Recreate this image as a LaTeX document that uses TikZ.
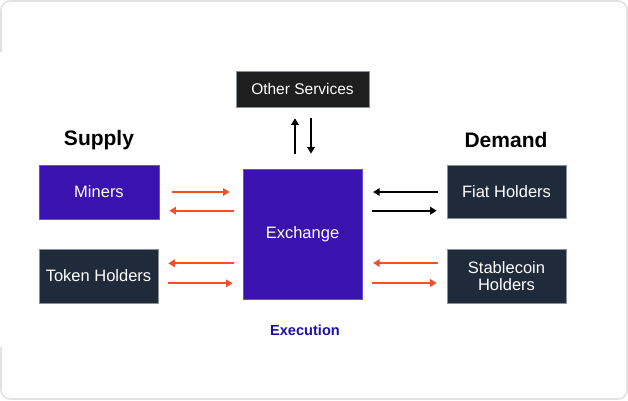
\documentclass[tikz,border=0pt]{standalone}
\usepackage{fontspec}
\setmainfont{Liberation Sans}
\usetikzlibrary{arrows.meta}
\definecolor{exviolet}{HTML}{3A12AE}
\definecolor{exvioletline}{HTML}{6B4FD8}
\definecolor{exslate}{HTML}{1F2B3A}
\definecolor{exslateline}{HTML}{8A9099}
\definecolor{exblack}{HTML}{1E1E1E}
\definecolor{exorange}{HTML}{F0512A}
\definecolor{exnavy}{HTML}{1E0FA0}
\definecolor{exframe}{HTML}{E2E2E2}
\tikzset{boxfont/.style={font=\fontsize{16.5}{18.5}\selectfont, text=white},
    flowarrow/.style={line width=2.2pt, -{Triangle[length=6.5pt,width=7.5pt]}}}

\begin{document}
\begin{tikzpicture}[x=1pt, y=-1pt,
    violetbox/.style={boxfont, fill=exviolet, draw=exvioletline, line width=0.8pt, inner sep=0pt},
    slatebox/.style={boxfont, fill=exslate, draw=exslateline, line width=0.6pt, inner sep=0pt, align=center},
    sidehead/.style={font=\fontsize{21}{24}\selectfont\bfseries, text=black},
    orangearrow/.style={flowarrow, exorange},
    blackarrow/.style={flowarrow, black}]
    \useasboundingbox (0,0) rectangle (628,400);

    % Outer frame (left edge is broken in the middle)
    \draw[exframe, line width=1.6pt, rounded corners=9pt]
        (1,52) -- (1,1) -- (627,1) -- (627,399) -- (1,399) -- (1,347);

    % Boxes
    \node[slatebox, fill=exblack, minimum width=133pt, minimum height=36pt,
        font=\fontsize{15.5}{18}\selectfont] (other) at (302.5,89) {Other Services};
    \node[violetbox, minimum width=119pt, minimum height=130pt] (exch) at (302.5,234) {Exchange};
    \node[violetbox, minimum width=120pt, minimum height=54pt] (miners) at (99,192) {Miners};
    \node[slatebox, minimum width=119pt, minimum height=54pt] (token) at (98.5,276) {Token Holders};
    \node[slatebox, minimum width=119pt, minimum height=53pt] (fiat) at (506.5,191.5) {Fiat Holders};
    \node[slatebox, minimum width=119pt, minimum height=54pt] (stable) at (506.5,276) {Stablecoin\\[-1pt]Holders};

    % Headings
    \node[sidehead] (supply) at (99,140) {Supply};
    \node[sidehead] (demand) at (506,140) {Demand};
    \node[font=\fontsize{14.6}{17}\selectfont\bfseries, text=exnavy] (exec) at (305,330) {Execution};

    % Exchange <-> other services
    \draw[blackarrow, shorten <=15pt, shorten >=11pt] ([xshift=-7.5pt]exch.north) -- ([xshift=-7.5pt]other.south);
    \draw[blackarrow, shorten <=11pt, shorten >=15pt] ([xshift=8.5pt]other.south) -- ([xshift=8.5pt]exch.north);

    % Supply side
    \draw[orangearrow, shorten <=12.7pt, shorten >=13pt] (miners.east) -- (miners.east -| exch.west);
    \draw[orangearrow, shorten <=9pt, shorten >=10pt] ([yshift=-18.7pt]miners.east -| exch.west) -- ([yshift=-18.7pt]miners.east);
    \draw[orangearrow, shorten <=9pt, shorten >=10pt] ([yshift=12.7pt]token.east -| exch.west) -- ([yshift=12.7pt]token.east);
    \draw[orangearrow, shorten <=10pt, shorten >=10pt] ([yshift=-7.3pt]token.east) -- ([yshift=-7.3pt]token.east -| exch.west);

    % Demand side
    \draw[blackarrow, shorten <=9pt, shorten >=10.7pt] ([yshift=-0.5pt]fiat.west) -- ([yshift=-0.5pt]fiat.west -| exch.east);
    \draw[blackarrow, shorten <=10pt, shorten >=10pt] ([yshift=-19.2pt]fiat.west -| exch.east) -- ([yshift=-19.2pt]fiat.west);
    \draw[orangearrow, shorten <=9pt, shorten >=10.7pt] ([yshift=13pt]stable.west) -- ([yshift=13pt]stable.west -| exch.east);
    \draw[orangearrow, shorten <=10pt, shorten >=10pt] ([yshift=-7pt]stable.west -| exch.east) -- ([yshift=-7pt]stable.west);
\end{tikzpicture}
\end{document}
